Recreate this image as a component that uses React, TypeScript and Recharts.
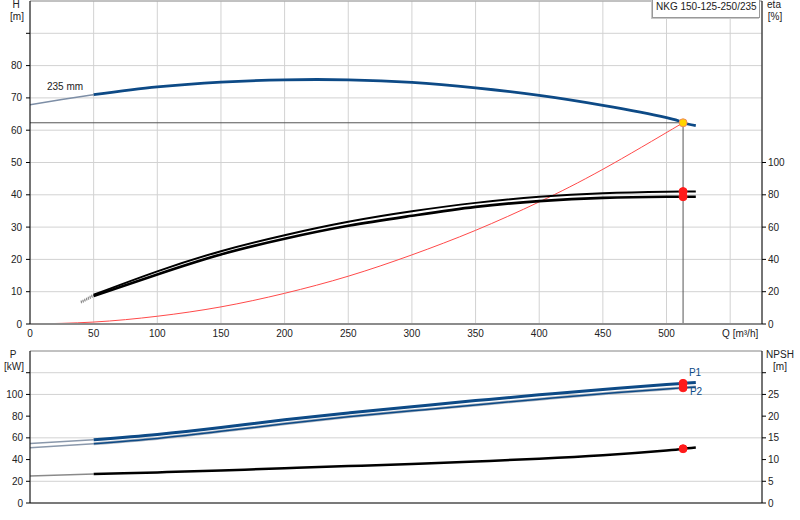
import React from "react";
import {
  ComposedChart,
  Line,
  XAxis,
  YAxis,
  CartesianGrid,
  ReferenceLine,
  ReferenceDot,
} from "recharts";

// ---------- data ----------
const qTicks = [0, 50, 100, 150, 200, 250, 300, 350, 400, 450, 500, 550];
const hTicks = [0, 10, 20, 30, 40, 50, 60, 70, 80, 90];
const etaTicks = [0, 20, 40, 60, 80, 100];
const pTicks = [0, 20, 40, 60, 80, 100, 120];
const npshTicks = [0, 5, 10, 15, 20, 25, 30];

const headQ = [0, 25, 50, 100, 150, 200, 250, 300, 350, 400, 450, 500, 513, 523];
const headH = [67.9, 69.5, 71.0, 73.4, 74.9, 75.6, 75.6, 74.8, 73.1, 70.8, 67.7, 63.9, 62.3, 61.4];

const etaQ = [40, 50, 100, 150, 200, 250, 300, 350, 400, 450, 500, 513, 523];
const eta1 = [13.8, 18.1, 32.6, 45.1, 55.0, 63.3, 69.8, 75.0, 78.8, 81.0, 81.9, 82.0, 82.1];
const eta2 = [13.2, 17.3, 30.7, 43.1, 52.8, 60.8, 67.0, 72.5, 76.1, 78.1, 78.8, 78.8, 78.8];

const sysQ = [0, 50, 100, 150, 200, 250, 300, 350, 400, 450, 513];
const sysH = [0, 0.6, 2.4, 5.3, 9.5, 14.8, 21.4, 29.0, 37.8, 47.9, 62.3];

const powQ = [0, 50, 100, 150, 200, 250, 300, 350, 400, 450, 500, 513, 523];
const p1 = [54.7, 58.3, 63.2, 69.6, 76.6, 83.0, 88.7, 94.3, 99.6, 104.6, 109.1, 110.2, 111.0];
const p2 = [51.0, 54.6, 59.5, 66.0, 73.0, 79.4, 84.9, 90.3, 95.6, 100.6, 105.0, 106.1, 106.8];
const npsh = [6.2, 6.65, 7.05, 7.5, 8.0, 8.5, 9.0, 9.55, 10.2, 11.0, 12.1, 12.5, 12.8];

const dutyQ = 513;
const dutyH = 62.3;
const dutyEta = [82.0, 78.8];
const dutyP = [110.2, 106.1];
const dutyNpsh = 12.5;

const extrapEnd = 50;

// ---------- helpers ----------
type Row = { q: number; v: number };
const rows = (qs: number[], vs: number[]): Row[] => qs.map((q, i) => ({ q, v: vs[i] }));
const upTo = (r: Row[], lim: number) => r.filter((d) => d.q <= lim);
const from = (r: Row[], lim: number) => r.filter((d) => d.q >= lim);

const headRows = rows(headQ, headH);
const eta1Rows = rows(etaQ, eta1);
const eta2Rows = rows(etaQ, eta2);
const sysRows = rows(sysQ, sysH);
const p1Rows = rows(powQ, p1);
const p2Rows = rows(powQ, p2);
const npshRows = rows(powQ, npsh);

const FONT = "'Liberation Sans', Arial, sans-serif";
const TXT = "#222";
const BLUE = "#0d4a86";
const GRID = "#d2d2d2";
const CURVE = "natural" as const;

const tickStyle = { fontSize: 10, fill: TXT, fontFamily: FONT };

const XTick = (props: any) => {
  const { x, y, payload } = props;
  const v = payload.value;
  const last = v === 550;
  return (
    <text
      x={x + (last ? 10 : 0)}
      y={y}
      dy="0.71em"
      textAnchor="middle"
      fontSize={10}
      fill={TXT}
      fontFamily={FONT}
    >
      {last ? "Q [m³/h]" : String(v)}
    </text>
  );
};

const Label = ({ x, y, children, color = TXT, size = 10 }: any) => (
  <div
    style={{
      position: "absolute",
      left: x,
      top: y,
      transform: "translate(-50%, -50%)",
      fontSize: size,
      color,
      fontFamily: FONT,
      whiteSpace: "nowrap",
      lineHeight: "12px",
    }}
  >
    {children}
  </div>
);

export default function App() {
  return (
    <div
      style={{
        position: "absolute",
        left: 0,
        top: 0,
        width: 800,
        height: 520,
        background: "#fff",
        fontFamily: FONT,
      }}
    >
      {/* ---------- top chart: H / eta ---------- */}
      <div style={{ position: "absolute", left: 0, top: 0 }}>
        <ComposedChart width={800} height={345} margin={{ top: 1, right: 0, bottom: 0, left: 0 }}>
          <CartesianGrid yAxisId="h" stroke={GRID} strokeWidth={1} />
          <XAxis
            dataKey="q"
            type="number"
            domain={[0, 575]}
            ticks={qTicks}
            allowDataOverflow
            height={21}
            tickLine={false}
            tickSize={0}
            tickMargin={6}
            axisLine={{ stroke: "#8c8c8c", strokeWidth: 2 }}
            tick={<XTick />}
          />
          <YAxis
            yAxisId="h"
            type="number"
            domain={[0, 100]}
            ticks={hTicks}
            width={30}
            tickSize={4}
            tickMargin={4}
            axisLine={{ stroke: "#000" }}
            tickLine={{ stroke: "#000" }}
            tick={tickStyle}
            tickFormatter={(v: number) => (v === 90 ? "" : String(v))}
          />
          <YAxis
            yAxisId="eta"
            orientation="right"
            type="number"
            domain={[0, 200]}
            ticks={etaTicks}
            width={38}
            tickSize={4}
            tickMargin={2}
            axisLine={{ stroke: "#000" }}
            tickLine={{ stroke: "#000" }}
            tick={{ ...tickStyle, textAnchor: "start" }}
          />
          <ReferenceLine yAxisId="h" y={100} stroke="#9a9a9a" />
          <ReferenceLine
            yAxisId="h"
            segment={[
              { x: 0, y: dutyH },
              { x: dutyQ, y: dutyH },
            ]}
            stroke="#555"
          />
          <ReferenceLine
            yAxisId="h"
            segment={[
              { x: dutyQ, y: 0 },
              { x: dutyQ, y: dutyH },
            ]}
            stroke="#555"
          />
          <Line
            yAxisId="h"
            data={sysRows}
            dataKey="v"
            type={CURVE}
            stroke="#ff4a4a"
            strokeWidth={1}
            dot={false}
            isAnimationActive={false}
          />
          <Line
            yAxisId="eta"
            data={upTo(eta1Rows, extrapEnd)}
            dataKey="v"
            type="linear"
            stroke="#8a8a8a"
            strokeWidth={2}
            strokeDasharray="1 1"
            dot={false}
            isAnimationActive={false}
          />
          <Line
            yAxisId="eta"
            data={upTo(eta2Rows, extrapEnd)}
            dataKey="v"
            type="linear"
            stroke="#8a8a8a"
            strokeWidth={2}
            strokeDasharray="1 1"
            dot={false}
            isAnimationActive={false}
          />
          <Line
            yAxisId="eta"
            data={from(eta1Rows, extrapEnd)}
            dataKey="v"
            type={CURVE}
            stroke="#000"
            strokeWidth={2}
            dot={false}
            isAnimationActive={false}
          />
          <Line
            yAxisId="eta"
            data={from(eta2Rows, extrapEnd)}
            dataKey="v"
            type={CURVE}
            stroke="#000"
            strokeWidth={2.6}
            dot={false}
            isAnimationActive={false}
          />
          <Line
            yAxisId="h"
            data={upTo(headRows, extrapEnd)}
            dataKey="v"
            type={CURVE}
            stroke="#7d8ea6"
            strokeWidth={1.5}
            dot={false}
            isAnimationActive={false}
          />
          <Line
            yAxisId="h"
            data={from(headRows, extrapEnd)}
            dataKey="v"
            type={CURVE}
            stroke={BLUE}
            strokeWidth={2.8}
            dot={false}
            isAnimationActive={false}
          />
          <ReferenceDot yAxisId="eta" x={dutyQ} y={dutyEta[0]} r={4} fill="#ff1a1a" stroke="#ff1a1a" />
          <ReferenceDot yAxisId="eta" x={dutyQ} y={dutyEta[1]} r={4} fill="#ff1a1a" stroke="#ff1a1a" />
          <ReferenceDot yAxisId="h" x={dutyQ} y={dutyH} r={4} fill="#ffd400" stroke="#f08a5d" strokeWidth={1} />
        </ComposedChart>
      </div>

      {/* ---------- bottom chart: P / NPSH ---------- */}
      <div style={{ position: "absolute", left: 0, top: 345 }}>
        <ComposedChart width={800} height={175} margin={{ top: 6, right: 0, bottom: 0, left: 0 }}>
          <CartesianGrid yAxisId="p" stroke={GRID} strokeWidth={1} />
          <XAxis
            dataKey="q"
            type="number"
            domain={[0, 575]}
            ticks={qTicks}
            allowDataOverflow
            height={17}
            tick={false}
            tickLine={false}
            axisLine={{ stroke: "#555", strokeWidth: 1.5 }}
          />
          <YAxis
            yAxisId="p"
            type="number"
            domain={[0, 140]}
            ticks={pTicks}
            width={30}
            tickSize={4}
            tickMargin={3}
            axisLine={{ stroke: "#000" }}
            tickLine={{ stroke: "#000" }}
            tick={tickStyle}
            tickFormatter={(v: number) => (v === 120 ? "" : String(v))}
          />
          <YAxis
            yAxisId="npsh"
            orientation="right"
            type="number"
            domain={[0, 35]}
            ticks={npshTicks}
            width={38}
            tickSize={4}
            tickMargin={2}
            axisLine={{ stroke: "#000" }}
            tickLine={{ stroke: "#000" }}
            tick={{ ...tickStyle, textAnchor: "start" }}
            tickFormatter={(v: number) => (v === 30 ? "" : String(v))}
          />
          <ReferenceLine yAxisId="p" y={140} stroke="#9a9a9a" />
          <Line
            yAxisId="p"
            data={upTo(p1Rows, extrapEnd)}
            dataKey="v"
            type="linear"
            stroke="#8a98ab"
            strokeWidth={1.5}
            dot={false}
            isAnimationActive={false}
          />
          <Line
            yAxisId="p"
            data={upTo(p2Rows, extrapEnd)}
            dataKey="v"
            type="linear"
            stroke="#8a98ab"
            strokeWidth={1.5}
            dot={false}
            isAnimationActive={false}
          />
          <Line
            yAxisId="npsh"
            data={upTo(npshRows, extrapEnd)}
            dataKey="v"
            type="linear"
            stroke="#8a8a8a"
            strokeWidth={1.5}
            dot={false}
            isAnimationActive={false}
          />
          <Line
            yAxisId="p"
            data={from(p2Rows, extrapEnd)}
            dataKey="v"
            type={CURVE}
            stroke="#a9b2be"
            strokeWidth={3}
            dot={false}
            isAnimationActive={false}
          />
          <Line
            yAxisId="p"
            data={from(p2Rows, extrapEnd)}
            dataKey="v"
            type={CURVE}
            stroke={BLUE}
            strokeWidth={1.5}
            dot={false}
            isAnimationActive={false}
          />
          <Line
            yAxisId="p"
            data={from(p1Rows, extrapEnd)}
            dataKey="v"
            type={CURVE}
            stroke={BLUE}
            strokeWidth={3}
            dot={false}
            isAnimationActive={false}
          />
          <Line
            yAxisId="npsh"
            data={from(npshRows, extrapEnd)}
            dataKey="v"
            type={CURVE}
            stroke="#000"
            strokeWidth={2.5}
            dot={false}
            isAnimationActive={false}
          />
          <ReferenceDot yAxisId="p" x={dutyQ} y={dutyP[0]} r={4} fill="#ff1a1a" stroke="#ff1a1a" />
          <ReferenceDot yAxisId="p" x={dutyQ} y={dutyP[1]} r={4} fill="#ff1a1a" stroke="#ff1a1a" />
          <ReferenceDot yAxisId="npsh" x={dutyQ} y={dutyNpsh} r={4} fill="#ff1a1a" stroke="#ff1a1a" />
        </ComposedChart>
      </div>

      {/* ---------- text annotations ---------- */}
      <Label x={16} y={5}>H</Label>
      <Label x={17} y={17}>[m]</Label>
      <Label x={774} y={5}>eta</Label>
      <Label x={775} y={17}>[%]</Label>
      <Label x={65} y={87}>235 mm</Label>
      <Label x={13} y={355}>P</Label>
      <Label x={14} y={367}>[kW]</Label>
      <Label x={780} y={355}>NPSH</Label>
      <Label x={780} y={367}>[m]</Label>
      <Label x={695} y={373} color={BLUE}>P1</Label>
      <Label x={696} y={392} color={BLUE}>P2</Label>

      <div
        style={{
          position: "absolute",
          left: 652,
          top: -1,
          width: 108,
          height: 19,
          border: "1px solid #999",
          boxShadow: "-1px 1px 0 #c8c8c8",
          background: "#fff",
          fontSize: 10,
          lineHeight: "14px",
          color: TXT,
          fontFamily: FONT,
          paddingLeft: 3,
          boxSizing: "border-box",
          whiteSpace: "nowrap",
        }}
      >
        NKG 150-125-250/235
      </div>
    </div>
  );
}
